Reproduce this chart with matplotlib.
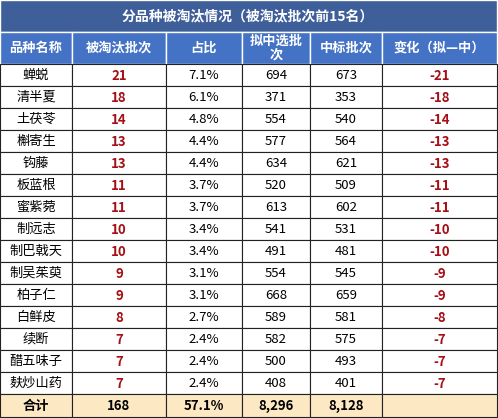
import matplotlib.pyplot as plt
from matplotlib.patches import Rectangle

plt.rcParams['font.family'] = ['Noto Sans CJK SC', 'DejaVu Sans']

title = "分品种被淘汰情况（被淘汰批次前15名）"
headers = ["品种名称", "被淘汰批次", "占比", "拟中选批\n次", "中标批次", "变化（拟—中）"]
names = ["蝉蜕", "清半夏", "土茯苓", "槲寄生", "钩藤", "板蓝根", "蜜紫菀", "制远志",
         "制巴戟天", "制吴茱萸", "柏子仁", "白鲜皮", "续断", "醋五味子", "麸炒山药"]
eliminated = [21, 18, 14, 13, 13, 11, 11, 10, 10, 9, 9, 8, 7, 7, 7]
share = ["7.1%", "6.1%", "4.8%", "4.4%", "4.4%", "3.7%", "3.7%", "3.4%", "3.4%",
         "3.1%", "3.1%", "2.7%", "2.4%", "2.4%", "2.4%"]
proposed = [694, 371, 554, 577, 634, 520, 613, 541, 491, 554, 668, 589, 582, 500, 408]
awarded = [673, 353, 540, 564, 621, 509, 602, 531, 481, 545, 659, 581, 575, 493, 401]
change = [a - p for p, a in zip(proposed, awarded)]
total = ["合计", "168", "57.1%", "8,296", "8,128", ""]

W, H = 498, 418
fig = plt.figure(figsize=(W / 100, H / 100), dpi=100)
ax = fig.add_axes([0, 0, 1, 1])
ax.set_xlim(0, W)
ax.set_ylim(H, 0)
ax.axis("off")

cols = [0, 72, 166, 242, 310, 382, 497]
red = "#A50F15"

# title bar
ax.add_patch(Rectangle((0, 0), 497, 32, facecolor="#3E5F99", edgecolor="white", lw=1))
ax.text(248, 16, title, color="white", fontsize=10, weight="bold", ha="center", va="center")

# header
for i, h in enumerate(headers):
    ax.add_patch(Rectangle((cols[i], 32), cols[i + 1] - cols[i], 32,
                           facecolor="#4472C4", edgecolor="white", lw=1))
    ax.text((cols[i] + cols[i + 1]) / 2, 48, h, color="white", fontsize=9.5, weight="bold",
            ha="center", va="center", linespacing=1.0)

rh = 22
y0 = 64
for r in range(len(names)):
    y = y0 + r * rh
    vals = [names[r], str(eliminated[r]), share[r], str(proposed[r]), str(awarded[r]), str(change[r])]
    for i, v in enumerate(vals):
        ax.add_patch(Rectangle((cols[i], y), cols[i + 1] - cols[i], rh,
                               facecolor="white", edgecolor="#222222", lw=0.8))
        bold = i in (1, 5)
        ax.text((cols[i] + cols[i + 1]) / 2, y + rh / 2 + 0.5, v, fontsize=9.5,
                color=red if bold else "black", weight="bold" if bold else "normal",
                ha="center", va="center")

y = y0 + len(names) * rh
for i, v in enumerate(total):
    ax.add_patch(Rectangle((cols[i], y), cols[i + 1] - cols[i], H - y - 1,
                           facecolor="#FCE9C4", edgecolor="#222222", lw=0.8))
    ax.text((cols[i] + cols[i + 1]) / 2, y + (H - y) / 2, v, fontsize=9.5, weight="bold",
            ha="center", va="center")

fig.savefig("out.png", dpi=100)
